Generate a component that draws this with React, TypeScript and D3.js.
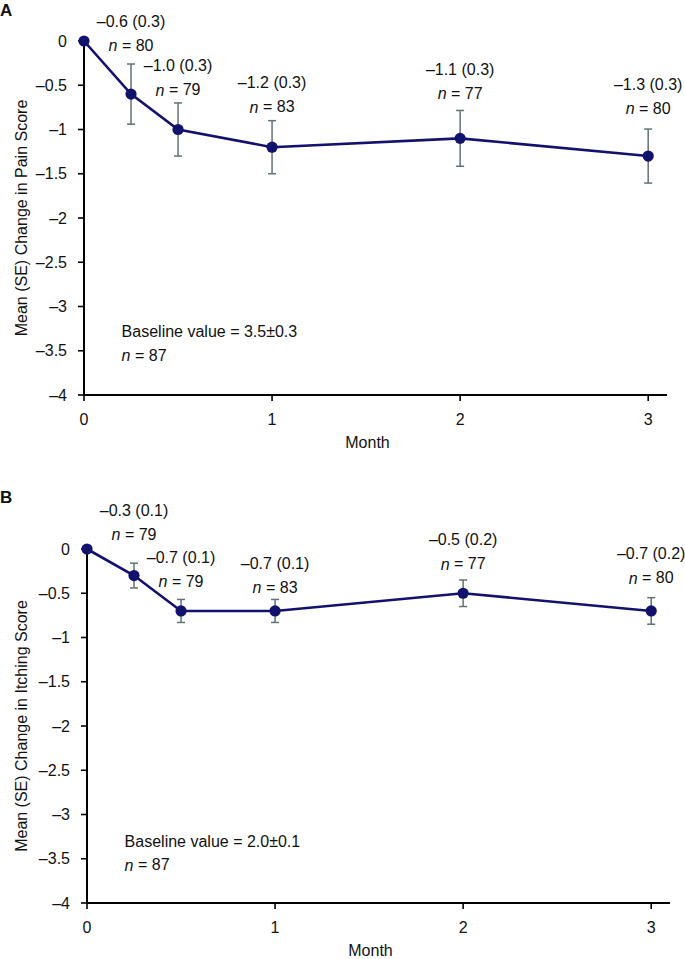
import React from 'react';
import * as d3 from 'd3';

// ---- data ----
const months = [0, 0.25, 0.5, 1, 2, 3];
const xTicks = [0, 1, 2, 3];
const yTicks = [0, -0.5, -1, -1.5, -2, -2.5, -3, -3.5, -4];

const painMean = [0, -0.6, -1.0, -1.2, -1.1, -1.3];
const painSE = [0, 0.34, 0.3, 0.3, 0.315, 0.305];
const painSELabel = ['', '0.3', '0.3', '0.3', '0.3', '0.3'];
const painN = [87, 80, 79, 83, 77, 80];
const painBaseline = '3.5±0.3';

const itchMean = [0, -0.3, -0.7, -0.7, -0.5, -0.7];
const itchSE = [0, 0.14, 0.13, 0.13, 0.15, 0.15];
const itchSELabel = ['', '0.1', '0.1', '0.1', '0.2', '0.2'];
const itchN = [87, 79, 79, 83, 77, 80];
const itchBaseline = '2.0±0.1';

// ---- layout ----
const W = 685;
const H = 959;
const FONT = '"Liberation Sans", Arial, Helvetica, sans-serif';
const FS = 16;
const LINE = '#12126e';
const ERR = '#5f7474';
const labelLiftA = [0, 19, 13, 14, 17, 21];
const labelLiftB = [0, 29, 18, 12, 16, 20];

const fmt = (v: number) => (v < 0 ? '\u2013' : '') + Math.abs(v).toString();
const fmtMean = (v: number) => (v < 0 ? '\u2013' : '') + Math.abs(v).toFixed(1);

type PanelProps = {
  letter: string;
  letterY: number;
  top: number;
  bottom: number;
  left: number;
  right: number;
  mean: number[];
  se: number[];
  seLabel: string[];
  n: number[];
  baseline: string;
  baseY: number[];
  lift: number[];
  yTitle: string;
};

function Panel(p: PanelProps) {
  const x = d3.scaleLinear().domain([0, 3.1]).range([p.left, p.right]);
  const y = d3.scaleLinear().domain([-4, 0]).range([p.bottom, p.top]);
  const pts = months.map((m, i) => ({ m, v: p.mean[i], se: p.se[i] }));
  const line = d3
    .line<{ m: number; v: number }>()
    .x((d) => x(d.m))
    .y((d) => y(d.v));
  const x0 = x(0);
  const yBot = y(-4);
  const cap = 4;
  return (
    <g fontFamily={FONT} fontSize={FS} fill="#111">
      <text x={0} y={p.letterY} fontWeight="bold" fontSize={17} dominantBaseline="central">
        {p.letter}
      </text>
      {/* y axis */}
      <line x1={x0} x2={x0} y1={y(0)} y2={yBot} stroke="#000" strokeWidth={2} />
      {yTicks.map((t) => (
        <g key={t}>
          <line x1={x0 - 6} x2={x0} y1={y(t)} y2={y(t)} stroke="#000" strokeWidth={1.6} />
          <text x={x0 - 17} y={y(t)} textAnchor="end" dominantBaseline="central">
            {fmt(t)}
          </text>
        </g>
      ))}
      {/* x axis */}
      <line x1={x0} x2={x(3.1)} y1={yBot} y2={yBot} stroke="#000" strokeWidth={2} />
      {xTicks.map((t) => (
        <g key={t}>
          <line x1={x(t)} x2={x(t)} y1={yBot} y2={yBot + 6} stroke="#000" strokeWidth={1.6} />
          <text x={x(t)} y={yBot + 24} textAnchor="middle" dominantBaseline="central">
            {t}
          </text>
        </g>
      ))}
      <text x={(x0 + x(3.1)) / 2 - 8} y={yBot + 47} textAnchor="middle" dominantBaseline="central">
        Month
      </text>
      <text
        transform={`translate(21,${(y(0) + yBot) / 2}) rotate(-90)`}
        textAnchor="middle"
        dominantBaseline="central"
      >
        {p.yTitle}
      </text>
      {/* error bars */}
      {pts.slice(1).map((d) => (
        <g key={'e' + d.m} stroke={ERR} strokeWidth={1.5}>
          <line x1={x(d.m)} x2={x(d.m)} y1={y(d.v + d.se)} y2={y(d.v - d.se)} />
          <line x1={x(d.m) - cap} x2={x(d.m) + cap} y1={y(d.v + d.se)} y2={y(d.v + d.se)} />
          <line x1={x(d.m) - cap} x2={x(d.m) + cap} y1={y(d.v - d.se)} y2={y(d.v - d.se)} />
        </g>
      ))}
      <path d={line(pts) || ''} fill="none" stroke={LINE} strokeWidth={2.6} />
      {pts.map((d) => (
        <circle key={'c' + d.m} cx={x(d.m)} cy={y(d.v)} r={5.6} fill={LINE} />
      ))}
      {/* labels */}
      {pts.slice(1).map((d, j) => {
        const i = j + 1;
        const nY = y(d.v + d.se) - p.lift[i];
        return (
          <g key={'l' + d.m} textAnchor="middle">
            <text x={x(d.m)} y={nY - 24} dominantBaseline="central">
              {fmtMean(d.v)} ({p.seLabel[i]})
            </text>
            <text x={x(d.m)} y={nY} dominantBaseline="central">
              <tspan fontStyle="italic">n</tspan> = {p.n[i]}
            </text>
          </g>
        );
      })}
      <text x={x(0.2)} y={y(p.baseY[0])} dominantBaseline="central">
        Baseline value = {p.baseline}
      </text>
      <text x={x(0.2)} y={y(p.baseY[1])} dominantBaseline="central">
        <tspan fontStyle="italic">n</tspan> = {p.n[0]}
      </text>
    </g>
  );
}

export default function App() {
  return (
    <svg
      width={W}
      height={H}
      viewBox={`0 0 ${W} ${H}`}
      style={{ position: 'absolute', left: 0, top: 0, background: '#fff' }}
    >
      <rect width={W} height={H} fill="#fff" />
      <Panel
        letter="A"
        letterY={10}
        top={41}
        bottom={395}
        left={84}
        right={667}
        mean={painMean}
        se={painSE}
        seLabel={painSELabel}
        n={painN}
        baseline={painBaseline}
        baseY={[-3.28, -3.55]}
        lift={labelLiftA}
        yTitle="Mean (SE) Change in Pain Score"
      />
      <Panel
        letter="B"
        letterY={497}
        top={549}
        bottom={903}
        left={87}
        right={670}
        mean={itchMean}
        se={itchSE}
        seLabel={itchSELabel}
        n={itchN}
        baseline={itchBaseline}
        baseY={[-3.3, -3.57]}
        lift={labelLiftB}
        yTitle="Mean (SE) Change in Itching Score"
      />
    </svg>
  );
}
